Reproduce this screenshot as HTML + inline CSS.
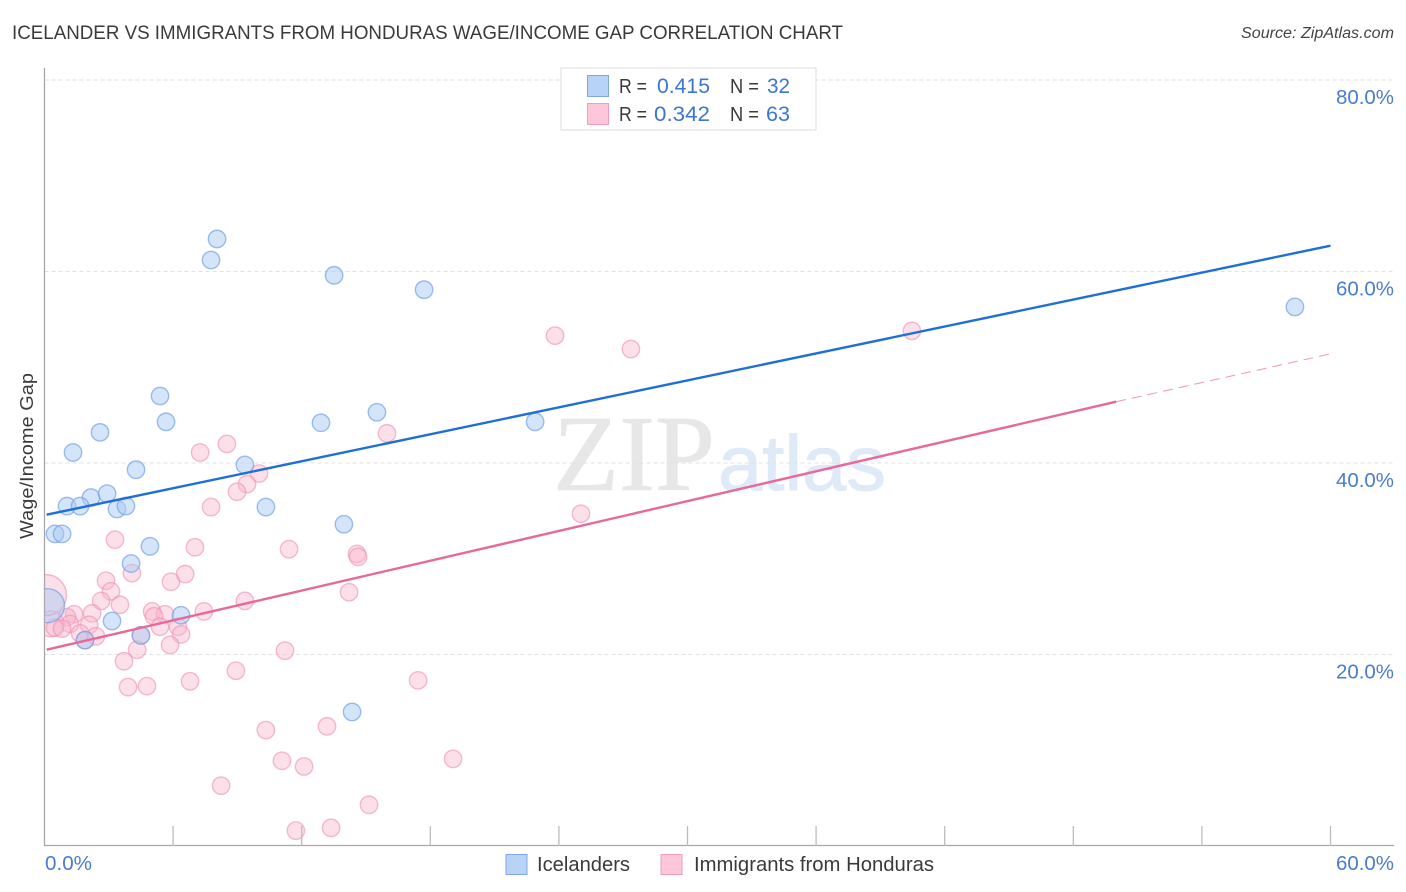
<!DOCTYPE html>
<html lang="en">
<head>
<meta charset="utf-8">
<title>Icelander vs Immigrants from Honduras Wage/Income Gap Correlation Chart</title>
<style>
html,body{margin:0;padding:0;background:#fff;width:1406px;height:892px;overflow:hidden}
svg{display:block;font-family:"Liberation Sans",sans-serif}
</style>
</head>
<body>
<svg id="chart" width="1406" height="892" viewBox="0 0 1406 892" xmlns="http://www.w3.org/2000/svg">
  <defs><clipPath id="plot-clip"><rect x="44.5" y="60" width="1350" height="786"/></clipPath></defs>
  <text x="12" y="39" font-size="19" fill="#3a3a3a" textLength="831" lengthAdjust="spacingAndGlyphs">ICELANDER VS IMMIGRANTS FROM HONDURAS WAGE/INCOME GAP CORRELATION CHART</text>
  <text x="1241" y="38" font-size="15.5" font-style="italic" fill="#444" textLength="153" lengthAdjust="spacingAndGlyphs">Source: ZipAtlas.com</text>
  <text x="553" y="490" font-family="'Liberation Serif',serif" font-size="108" fill="#e7e7e7" stroke="#e7e7e7" stroke-width="0.8" textLength="162" lengthAdjust="spacingAndGlyphs">ZIP</text>
  <text x="718" y="490" font-family="'Liberation Sans',sans-serif" font-size="78" fill="#dfeaf9" stroke="#dfeaf9" stroke-width="1" textLength="168" lengthAdjust="spacingAndGlyphs">atlas</text>
  <g id="grid"></g>
  <g id="points-pink" clip-path="url(#plot-clip)"></g>
  <g id="points-blue" clip-path="url(#plot-clip)"></g>
  <rect x="0" y="560" width="44" height="90" fill="#fff"/>
  <g id="axes"></g>
  <g id="trends"></g>
  <text transform="translate(33,456) rotate(-90)" font-size="18.5" fill="#3a3a3a" text-anchor="middle" textLength="166" lengthAdjust="spacingAndGlyphs">Wage/Income Gap</text>
  <g font-size="20" fill="#3a3a3a">
    <rect x="561" y="68" width="255" height="62" fill="#fff" stroke="#dedede" stroke-width="1"/>
    <rect x="587.5" y="75.5" width="21" height="21" fill="#b9d3f7" stroke="#7ea8e4"/>
    <rect x="587.5" y="103.5" width="21" height="21" fill="#fcc8d9" stroke="#f39dba"/>
    <text x="619" y="93" textLength="28" lengthAdjust="spacingAndGlyphs">R =</text>
    <text x="657" y="93" fill="#3b76d2" font-size="21.5" textLength="53" lengthAdjust="spacingAndGlyphs">0.415</text>
    <text x="730" y="93" textLength="29" lengthAdjust="spacingAndGlyphs">N =</text>
    <text x="767" y="93" fill="#3b76d2" font-size="21.5" textLength="23" lengthAdjust="spacingAndGlyphs">32</text>
    <text x="619" y="121" textLength="28" lengthAdjust="spacingAndGlyphs">R =</text>
    <text x="654" y="121" fill="#3b76d2" font-size="21.5" textLength="56" lengthAdjust="spacingAndGlyphs">0.342</text>
    <text x="730" y="121" textLength="29" lengthAdjust="spacingAndGlyphs">N =</text>
    <text x="766" y="121" fill="#3b76d2" font-size="21.5" textLength="24" lengthAdjust="spacingAndGlyphs">63</text>
  </g>
  <g font-size="20" fill="#3a3a3a">
    <rect x="506" y="854.5" width="21" height="20" fill="#b9d3f7" stroke="#7ea8e4"/>
    <text x="537" y="871" textLength="93" lengthAdjust="spacingAndGlyphs">Icelanders</text>
    <rect x="661" y="854.5" width="21" height="20" fill="#fcc8d9" stroke="#f39dba"/>
    <text x="694" y="871" textLength="240" lengthAdjust="spacingAndGlyphs">Immigrants from Honduras</text>
  </g>
</svg>
<script>
const yTickValues = [20, 40, 60, 80];
const yTickLabels = ["20.0%", "40.0%", "60.0%", "80.0%"];
const xTickValues = [6, 12, 18, 24, 30, 36, 42, 48, 54, 60];
const xEndLabels = ["0.0%", "60.0%"];

const blueX = [8.05,7.77,13.51,17.71,58.34,5.39,5.67,2.59,12.90,15.51,22.89,1.33,4.27,9.35,2.17,2.92,1.05,1.66,3.38,3.80,10.33,0.49,0.82,13.97,4.92,4.04,6.37,3.15,4.50,1.89,14.35,0.14];
const blueY = [63.4,61.2,59.6,58.1,56.3,47.0,44.3,43.2,44.2,45.3,44.3,41.1,39.3,39.8,36.4,36.8,35.5,35.5,35.2,35.5,35.4,32.6,32.6,33.6,31.3,29.5,24.1,23.5,22.0,21.5,14.0,25.1];
const blueSize = [8.7,8.7,8.7,8.7,8.7,8.7,8.7,8.7,8.7,8.7,8.7,8.7,8.7,8.7,8.7,8.7,8.7,8.7,8.7,8.7,8.7,8.7,8.7,8.7,8.7,8.7,8.7,8.7,8.7,8.7,8.7,17];

const pinkX = [40.47,23.82,27.36,15.98,8.51,7.26,10.01,9.45,8.98,7.77,25.03,3.29,7.02,11.41,14.58,14.63,4.08,6.56,5.90,2.87,3.10,14.21,2.64,9.35,3.52,5.02,5.62,2.22,7.44,1.38,5.11,1.05,5.39,6.23,2.08,1.19,0.30,0.49,0.82,1.66,2.40,6.37,4.50,1.89,5.86,4.32,11.22,3.71,6.79,8.93,17.43,3.90,4.78,10.33,13.18,11.08,19.06,12.11,8.24,15.14,13.37,11.73,0.07];
const pinkY = [53.8,53.3,51.9,43.1,42.0,41.1,38.9,37.8,37.0,35.4,34.7,32.0,31.2,31.0,30.5,30.2,28.5,28.4,27.6,27.7,26.6,26.5,25.6,25.6,25.2,24.5,24.2,24.3,24.5,24.2,24.0,23.9,22.9,22.9,23.1,23.2,23.2,22.8,22.7,22.2,21.9,22.1,22.0,21.5,21.0,20.5,20.4,19.3,17.2,18.3,17.3,16.6,16.7,12.1,12.5,8.9,9.1,8.3,6.3,4.3,1.9,1.6,26.2];
const pinkSize = [8.7,8.7,8.7,8.7,8.7,8.7,8.7,8.7,8.7,8.7,8.7,8.7,8.7,8.7,8.7,8.7,8.7,8.7,8.7,8.7,8.7,8.7,8.7,8.7,8.7,8.7,8.7,8.7,8.7,8.7,8.7,8.7,8.7,8.7,8.7,8.7,13,8.7,8.7,8.7,8.7,8.7,8.7,8.7,8.7,8.7,8.7,8.7,8.7,8.7,8.7,8.7,8.7,8.7,8.7,8.7,8.7,8.7,8.7,8.7,8.7,8.7,20.5];

const blueTrendX = [0.1, 60];
const blueTrendY = [34.6, 62.7];
const pinkTrendX = [0.1, 50];
const pinkTrendY = [20.5, 46.4];
const pinkDashX = [50, 60];
const pinkDashY = [46.4, 51.4];

const NS = "http://www.w3.org/2000/svg";
function xScale(v) { return 44.5 + v * (1286 / 60); }
function yScale(v) { return 846 - v * 9.575; }
function make(tag, parentId, attrs) {
  const el = document.createElementNS(NS, tag);
  for (const k in attrs) el.setAttribute(k, attrs[k]);
  document.getElementById(parentId).appendChild(el);
  return el;
}

yTickValues.forEach(function (v, i) {
  const line = make("line", "grid", {x1: 44.5, x2: 1394, y1: yScale(v), y2: yScale(v), stroke: "#e2e2e2", "stroke-width": 1, "stroke-dasharray": "4 3"});
  
  
  const label = make("text", "axes", {x: 1336, y: yScale(v) + 24, "font-size": 20, fill: "#4a7bd3", textLength: 58, lengthAdjust: "spacingAndGlyphs"});
  label.textContent = yTickLabels[i];
  
  
});

const yAxis = make("line", "axes", {x1: 44.5, x2: 44.5, y1: 68, y2: 846, stroke: "#a8a8a8", "stroke-width": 1.3});


const xAxis = make("line", "axes", {x1: 44, x2: 1394, y1: 845.5, y2: 845.5, stroke: "#a8a8a8", "stroke-width": 1.3});



xTickValues.forEach(function (v) {
  const tick = make("line", "axes", {x1: xScale(v), x2: xScale(v), y1: 826, y2: 846, stroke: "#bcbcbc", "stroke-width": 1.3});
  
  
});

const xLabelLeft = make("text", "axes", {x: 45, y: 870, "font-size": 20, fill: "#4a7bd3", textLength: 47, lengthAdjust: "spacingAndGlyphs"});
xLabelLeft.textContent = xEndLabels[0];


const xLabelRight = make("text", "axes", {x: 1336, y: 870, "font-size": 20, fill: "#4a7bd3", textLength: 58, lengthAdjust: "spacingAndGlyphs"});
xLabelRight.textContent = xEndLabels[1];



pinkX.forEach(function (v, i) {
  const c = make("circle", "points-pink", {cx: xScale(v), cy: yScale(pinkY[i]), r: pinkSize[i], fill: "#f8b4cb", "fill-opacity": 0.42, stroke: "#ee8fb0", "stroke-opacity": 0.6, "stroke-width": 1.4});
  
  
});
blueX.forEach(function (v, i) {
  const c = make("circle", "points-blue", {cx: xScale(v), cy: yScale(blueY[i]), r: blueSize[i], fill: "#a9c9f4", "fill-opacity": 0.5, stroke: "#6b9ce3", "stroke-opacity": 0.65, "stroke-width": 1.4});
  
  
});

const trendPink = make("line", "trends", {x1: xScale(pinkTrendX[0]), y1: yScale(pinkTrendY[0]), x2: xScale(pinkTrendX[1]), y2: yScale(pinkTrendY[1]), stroke: "#e8689a", "stroke-width": 2.4});


const trendDash = make("line", "trends", {x1: xScale(pinkDashX[0]), y1: yScale(pinkDashY[0]), x2: xScale(pinkDashX[1]), y2: yScale(pinkDashY[1]), stroke: "#e8689a", "stroke-width": 1, "stroke-opacity": 0.7, "stroke-dasharray": "10 6"});


const trendBlue = make("line", "trends", {x1: xScale(blueTrendX[0]), y1: yScale(blueTrendY[0]), x2: xScale(blueTrendX[1]), y2: yScale(blueTrendY[1]), stroke: "#1f6fd6", "stroke-width": 2.4});


</script>
</body>
</html>
